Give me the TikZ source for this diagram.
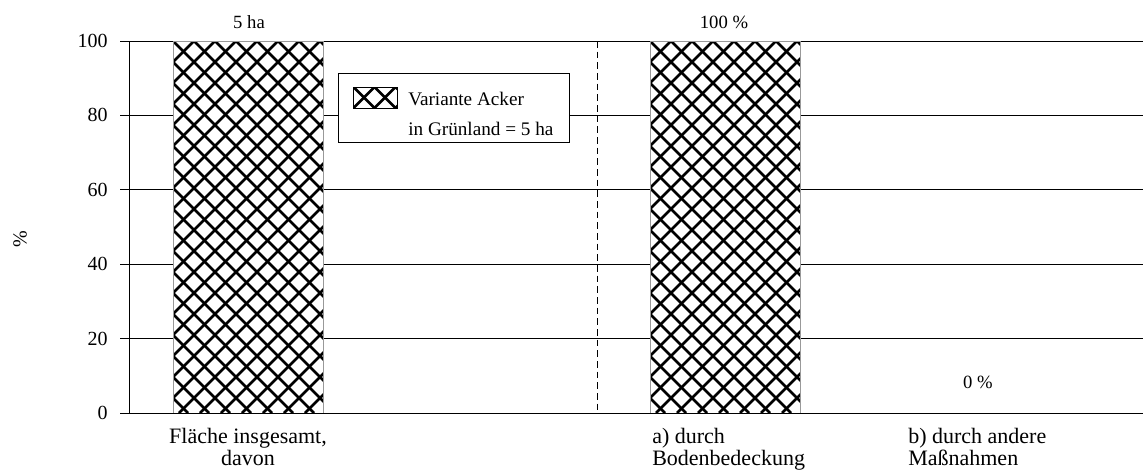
\documentclass[tikz,border=0pt]{standalone}
\usepackage{fontspec}
\setmainfont{Liberation Serif}
\begin{document}
\begin{tikzpicture}[x=0.75pt,y=-0.75pt,
  gridline/.style={line width=0.75pt,black},
  barbox/.style={draw=none,fill=white,inner sep=0pt,outer sep=0pt,minimum width=112.5pt,minimum height=279pt,anchor=north west},
  barborder/.style={draw=gray!80,line width=0.6pt},
  hatchline/.style={line width=2pt,black},
  ticklabel/.style={font=\fontsize{15}{15}\selectfont,anchor=east,inner sep=0pt},
  toplabel/.style={font=\fontsize{14}{14}\selectfont,anchor=base,inner sep=0pt},
  catlabel/.style={font=\fontsize{16.5}{16.5}\selectfont,inner sep=0pt},
  legtext/.style={font=\fontsize{14.4}{22.5}\selectfont,align=left,anchor=base west,inner sep=0pt}]
\useasboundingbox (0,0) rectangle (1143,471);

% gridlines and ticks
\foreach \v in {20,40,60,80,100}{
  \draw[gridline] (129,413-3.72*\v) -- (1143,413-3.72*\v);
}
\foreach \v in {0,20,40,60,80,100}{
  \draw[gridline] (120,413-3.72*\v) -- (129,413-3.72*\v);
  \node[ticklabel] (t\v) at (108,413-3.72*\v) {\v};
}
\node[font=\fontsize{15}{15}\selectfont,rotate=90,inner sep=0pt] (ylab) at (20,239) {\%};

% legend
\node[draw,fill=white,line width=0.8pt,inner sep=0pt,minimum width=173.25pt,minimum height=51.75pt,anchor=north west] (leg) at (338,73) {};
\node[fill=white,inner sep=0pt,minimum width=33pt,minimum height=15.75pt,anchor=north west] (sw) at (353,87) {};
\begin{scope}
  \clip (sw.south west) rectangle (sw.north east);
  \foreach \i in {-3,...,3}{
    \draw[hatchline] (364+21*\i-20,97.5-20) -- ++(40,40);
    \draw[hatchline] (364+21*\i+20,97.5-20) -- ++(-40,40);
  }
\end{scope}
\draw[line width=0.6pt] (sw.south west) rectangle (sw.north east);
\node[legtext] (legt) at (408,135) {Variante Acker\\in Grünland = 5 ha};

% bars
\node[barbox] (b1) at (173,41) {};
\node[barbox] (b2) at (650,41) {};
\begin{scope}
  \clip (b1.south west) rectangle (b1.north east);
  \foreach \i in {-18,...,8}{\draw[hatchline] (173+21*\i,41) -- ++(372,372);}
  \foreach \i in {0,...,26}{\draw[hatchline] (173+21*\i,41) -- ++(-372,372);}
\end{scope}
\begin{scope}
  \clip (b2.south west) rectangle (b2.north east);
  \foreach \i in {-18,...,8}{\draw[hatchline] (650+21*\i,41) -- ++(372,372);}
  \foreach \i in {0,...,26}{\draw[hatchline] (650+21*\i,41) -- ++(-372,372);}
\end{scope}
\draw[barborder] (b1.south west) rectangle (b1.north east);
\draw[barborder] (b2.south west) rectangle (b2.north east);

% axes
\coordinate (o) at (129,413);
\coordinate (ytop) at (129,41);
\coordinate (xend) at (1143,413);
\coordinate (dtop) at (597,41);
\coordinate (dbot) at (597,413);
\draw[gridline] (ytop) -- (o);
\draw[gridline] (120,413) -- (xend);
\draw[line width=0.6pt,dash pattern=on 5pt off 3pt] (dtop) -- (dbot);

% labels
\node[toplabel] (l1) at (249,28) {5 ha};
\node[toplabel] (l2) at (724,28) {100 \%};
\node[toplabel] (l3) at (978,388) {0 \%};
\node[catlabel,align=center,anchor=base] (c1) at (248,465) {Fläche insgesamt,\\davon};
\node[catlabel,align=left,anchor=base west] (c2) at (652,465) {a) durch\\Bodenbedeckung};
\node[catlabel,align=left,anchor=base west] (c3) at (908,465) {b) durch andere\\Maßnahmen};
\end{tikzpicture}
\end{document}
